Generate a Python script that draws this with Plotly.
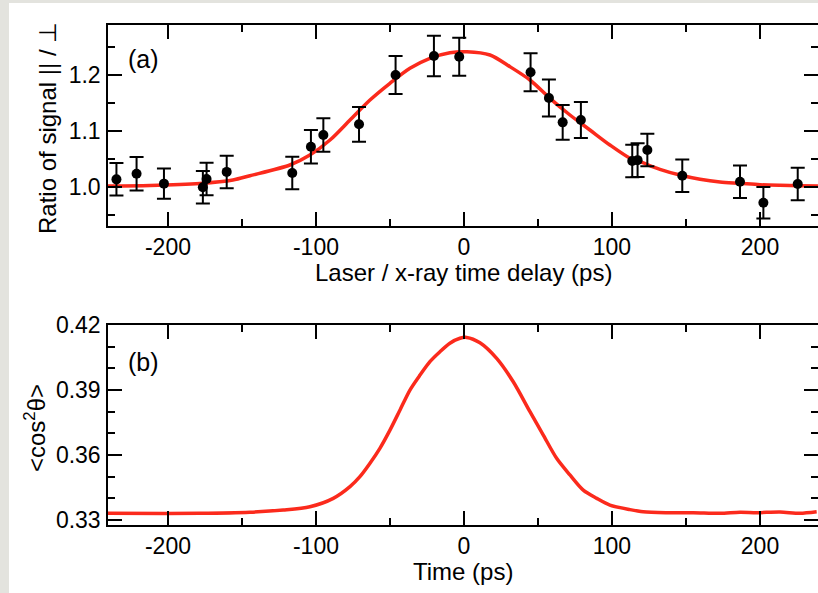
import plotly.graph_objects as go

# ---- panel (a): measured ratio with error bars ----
delay_ps = [-234.8, -221.2, -202.7, -176.4, -173.9, -160.3, -116.0, -103.4, -95.0, -70.9,
            -46.2, -20.3, -3.2, 45.0, 57.4, 66.7, 79.0, 113.7, 117.3, 123.9,
            147.5, 186.5, 202.3, 225.5]
ratio = [1.0137, 1.0238, 1.0060, 0.9995, 1.0143, 1.0270, 1.0250, 1.0720, 1.0930, 1.1120,
         1.2000, 1.2340, 1.2327, 1.2050, 1.1590, 1.1155, 1.1196, 1.0464, 1.0480, 1.0660,
         1.0200, 1.0095, 0.9720, 1.0054]
ratio_err = [0.029, 0.030, 0.027, 0.029, 0.029, 0.029, 0.029, 0.030, 0.030, 0.031,
             0.034, 0.036, 0.034, 0.034, 0.033, 0.031, 0.032, 0.029, 0.030, 0.029,
             0.029, 0.029, 0.028, 0.029]

# fitted curve in panel (a)
fit_t = [-240.5, -212.2, -178.4, -156.1, -144.6, -117.6, -104.1, -90.5, -77.0, -63.5,
         -50.0, -36.5, -23.0, -9.5, 2.0, 17.6, 31.1, 44.6, 58.1, 71.6,
         85.1, 98.6, 112.2, 118.9, 132.4, 145.9, 159.5, 173.0, 186.5, 200.0,
         213.5, 227.0, 239.9]
fit_v = [1.0018, 1.0027, 1.0063, 1.0125, 1.0202, 1.0393, 1.0571, 1.0839, 1.1196, 1.1554,
         1.1852, 1.2120, 1.2298, 1.2398, 1.2416, 1.2357, 1.2148, 1.1911, 1.1584, 1.1286,
         1.1018, 1.0750, 1.0513, 1.0452, 1.0316, 1.0214, 1.0138, 1.0089, 1.0066, 1.0041,
         1.0030, 1.0023, 1.0018]

# ---- panel (b): <cos^2 theta> vs time ----
time_ps = [-240.5, -178.4, -144.6, -122.1, -104.1, -88.3, -77.0, -70.3, -63.5, -56.8,
           -50.0, -43.2, -36.5, -29.7, -23.0, -16.2, -9.5, -2.7, 1.8, 10.8,
           22.1, 33.3, 44.6, 53.6, 62.6, 71.6, 80.6, 89.7, 98.6, 112.2,
           121.1, 136.9, 154.9, 173.0, 186.5, 197.8, 213.5, 227.0, 238.3]
cos2 = [0.3331, 0.3331, 0.3336, 0.3346, 0.3361, 0.3400, 0.3454, 0.3500, 0.3562, 0.3631,
        0.3715, 0.3808, 0.3900, 0.3969, 0.4031, 0.4077, 0.4116, 0.4139, 0.4143, 0.4118,
        0.4046, 0.3938, 0.3800, 0.3692, 0.3585, 0.3508, 0.3438, 0.3400, 0.3369, 0.3348,
        0.3338, 0.3334, 0.3334, 0.3331, 0.3336, 0.3334, 0.3337, 0.3331, 0.3338]

x_ticks = [-200, -100, 0, 100, 200]
x_ticktext = ["-200", "-100", "0", "100", "200"]
x_minor = [-150, -50, 50, 150]
ya_ticks = [1.0, 1.1, 1.2]
ya_minor = [0.95, 1.05, 1.15, 1.25]
yb_ticks = [0.33, 0.36, 0.39, 0.42]
yb_minor = [0.34, 0.35, 0.37, 0.38, 0.40, 0.41]

RED = "#fb2a1c"
GRAY = "#e3e3de"
FONT = "Liberation Sans, Arial, Helvetica, sans-serif"

fig = go.Figure()
fig.add_trace(go.Scatter(x=fit_t, y=fit_v, mode="lines",
                         line=dict(color=RED, width=3.5, shape="spline", smoothing=0.8),
                         xaxis="x", yaxis="y", showlegend=False, hoverinfo="skip"))
fig.add_trace(go.Scatter(x=delay_ps, y=ratio, mode="markers",
                         marker=dict(color="black", size=10),
                         error_y=dict(type="data", array=ratio_err, color="black",
                                      thickness=2, width=7),
                         xaxis="x", yaxis="y", showlegend=False))
fig.add_trace(go.Scatter(x=time_ps, y=cos2, mode="lines",
                         line=dict(color=RED, width=3.5, shape="spline", smoothing=0.8),
                         xaxis="x2", yaxis="y2", showlegend=False))
# empty traces to carry the right-hand tick axes
fig.add_trace(go.Scatter(x=[None], y=[None], xaxis="x", yaxis="y3", showlegend=False, hoverinfo="skip"))
fig.add_trace(go.Scatter(x=[None], y=[None], xaxis="x2", yaxis="y4", showlegend=False, hoverinfo="skip"))

xr = [-240.5, 239.2]
ra = [0.9304, 1.2893]
rb = [0.3277, 0.42002]

def xaxis(anchor):
    return dict(domain=[0, 1], anchor=anchor, range=xr, tickmode="array",
                tickvals=x_ticks, ticktext=x_ticktext, ticks="inside", ticklen=14,
                tickwidth=1.5, tickcolor="black", showline=True, linewidth=1.5,
                linecolor="black", mirror="ticks", showgrid=False, zeroline=False,
                minor=dict(tickvals=x_minor, ticks="inside", ticklen=7, tickwidth=1.5,
                           tickcolor="black", showgrid=False),
                tickfont=dict(size=23, color="black"), ticklabelstandoff=0)

def yaxis(domain, rng, ticks, minor, fmt, side="left", overlay=None, anchor="x"):
    d = dict(domain=domain, range=rng, tickmode="array", tickvals=ticks, ticks="inside",
             ticklen=14, tickwidth=1.5, tickcolor="black", showgrid=False, zeroline=False,
             minor=dict(tickvals=minor, ticks="inside", ticklen=7, tickwidth=1.5,
                        tickcolor="black", showgrid=False),
             tickformat=fmt, side=side, anchor=anchor,
             tickfont=dict(size=23, color="black"))
    if overlay is None:
        d.update(showline=True, linewidth=1.5, linecolor="black", mirror=False,
                 ticklabelstandoff=1)
    else:
        d.update(overlaying=overlay, showline=False, showticklabels=False)
    return d

def label(text, x, y, size, angle=0, xanchor="center"):
    return dict(text=text, xref="paper", yref="paper", x=x, y=y, xanchor=xanchor,
                yanchor="middle", showarrow=False, textangle=angle,
                font=dict(size=size, color="black"))

# pixel -> paper helpers for the 710x500 plotting area (left 108, bottom 525)
px = lambda p: (p - 108) / 710
py = lambda p: (525 - p) / 500

fig.update_layout(
    width=818, height=593,
    margin=dict(l=108, r=0, t=25, b=68, pad=0),
    paper_bgcolor=GRAY, plot_bgcolor="rgba(0,0,0,0)",
    font=dict(family=FONT, color="black"),
    xaxis=xaxis("y"),
    xaxis2=xaxis("y2"),
    yaxis=yaxis([0.598, 1], ra, ya_ticks, ya_minor, ".1f"),
    yaxis2=yaxis([0, 0.4], rb, yb_ticks, yb_minor, ".2f", anchor="x2"),
    yaxis3=yaxis([0.598, 1], ra, ya_ticks, ya_minor, ".1f", side="right", overlay="y"),
    yaxis4=yaxis([0, 0.4], rb, yb_ticks, yb_minor, ".2f", side="right", overlay="y2", anchor="x2"),
    shapes=[dict(type="rect", xref="paper", yref="paper", x0=px(9), x1=1.01,
                 y0=-0.2, y1=py(3), fillcolor="white", line=dict(width=0),
                 layer="below")],
    annotations=[
        label("(a)", px(126), py(59), 25, xanchor="left"),
        label("(b)", px(126), py(362), 25, xanchor="left"),
        label("Laser / x-ray time delay (ps)", 0.5, py(272), 24),
        label("Time (ps)", 0.5, py(571), 24),
        label("Ratio of signal || / ⊥", px(48), py(128), 24, angle=-90),
        label("&lt;cos<sup>2</sup>θ&gt;", px(35), py(428), 24, angle=-90),
    ],
)

fig.write_html("out.html",
               config={"displayModeBar": False},
               post_script="document.body.style.margin='0';"
                           "document.body.style.background='" + GRAY + "';")
